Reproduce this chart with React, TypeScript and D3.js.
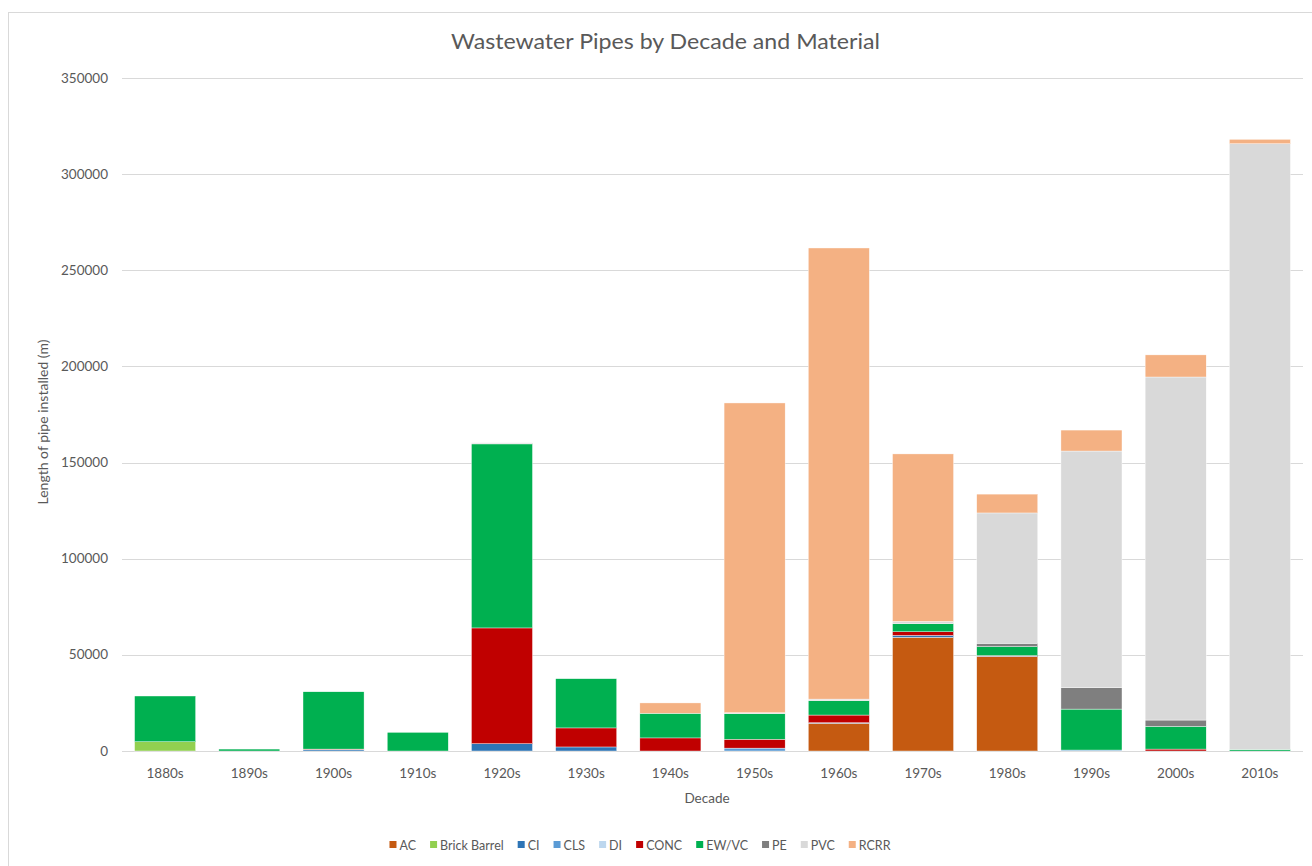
import { useEffect, useRef } from "react";
import * as d3 from "d3";

const DECADES = ["1880s", "1890s", "1900s", "1910s", "1920s", "1930s", "1940s", "1950s", "1960s", "1970s", "1980s", "1990s", "2000s", "2010s"];

const AC = [0, 0, 0, 0, 0, 0, 0, 0, 14400, 59100, 49000, 0, 0, 0];
const BRICK_BARREL = [4800, 0, 0, 0, 0, 0, 0, 0, 0, 0, 0, 0, 0, 0];
const CI = [0, 0, 600, 0, 3800, 2100, 0, 0, 300, 1000, 300, 0, 0, 0];
const CLS = [0, 0, 0, 0, 0, 0, 0, 1500, 0, 0, 0, 500, 0, 0];
const DI = [0, 0, 0, 0, 0, 0, 0, 0, 0, 0, 0, 0, 0, 0];
const CONC = [0, 0, 400, 0, 60200, 9900, 6800, 4600, 4000, 1900, 300, 0, 1000, 0];
const EW_VC = [23800, 1000, 29800, 9700, 95700, 25600, 12800, 13300, 7500, 4200, 4700, 21300, 11800, 800];
const PE = [0, 0, 0, 0, 300, 0, 0, 0, 0, 0, 1700, 11100, 3300, 0];
const PVC = [0, 0, 0, 0, 300, 0, 0, 500, 800, 1200, 67800, 123100, 178400, 315000];
const RCRR = [0, 0, 0, 0, 0, 0, 5400, 161100, 234600, 87100, 9800, 10900, 11500, 2300];

const Y_TICKS = [0, 50000, 100000, 150000, 200000, 250000, 300000, 350000];

const SERIES = [
  { name: "AC", values: AC, color: "#C55A11" },
  { name: "Brick Barrel", values: BRICK_BARREL, color: "#92D050" },
  { name: "CI", values: CI, color: "#2E75B6" },
  { name: "CLS", values: CLS, color: "#5B9BD5" },
  { name: "DI", values: DI, color: "#BDD7EE" },
  { name: "CONC", values: CONC, color: "#C00000" },
  { name: "EW/VC", values: EW_VC, color: "#00B050" },
  { name: "PE", values: PE, color: "#7F7F7F" },
  { name: "PVC", values: PVC, color: "#D9D9D9" },
  { name: "RCRR", values: RCRR, color: "#F4B183" },
];

const FONT = "Lato, 'Open Sans', sans-serif";
const TEXT = "#595959";

export default function App() {
  const ref = useRef<SVGSVGElement | null>(null);

  useEffect(() => {
    if (!ref.current) return;
    const svg = d3.select(ref.current);
    svg.selectAll("*").remove();

    const height = 866;
    const plot = { left: 122, right: 1303, top: 78, bottom: height - 115 };

    // chart frame
    svg
      .append("rect")
      .attr("x", 8.5)
      .attr("y", 12.5)
      .attr("width", 1400)
      .attr("height", 1000)
      .attr("fill", "#fff")
      .attr("stroke", "#d9d9d9");

    const x = d3
      .scaleBand<string>()
      .domain(DECADES)
      .range([123, 1302])
      .paddingInner(0.275)
      .paddingOuter(0.1375);

    const y = d3
      .scaleLinear()
      .domain([0, 350000])
      .range([plot.bottom, plot.top]);

    // gridlines
    svg
      .append("g")
      .selectAll("line")
      .data(Y_TICKS)
      .enter()
      .append("line")
      .attr("x1", plot.left)
      .attr("x2", plot.right)
      .attr("y1", (d) => Math.round(y(d)) + 0.5)
      .attr("y2", (d) => Math.round(y(d)) + 0.5)
      .attr("stroke", "#d9d9d9")
      .attr("stroke-width", 1);

    svg
      .append("g")
      .selectAll("text")
      .data(Y_TICKS)
      .enter()
      .append("text")
      .text((d) => String(d))
      .attr("x", 108)
      .attr("y", (d) => y(d) + 4.5)
      .attr("text-anchor", "end")
      .attr("font-family", FONT)
      .attr("font-size", 13.5)
      .attr("fill", TEXT);

    const table = DECADES.map((decade, i) => {
      const row: Record<string, number | string> = { decade };
      SERIES.forEach((s) => (row[s.name] = s.values[i]));
      return row;
    });

    const stack = d3
      .stack<Record<string, number | string>>()
      .keys(SERIES.map((s) => s.name))
      .value((d, key) => d[key] as number);

    const layers = stack(table);

    svg
      .append("g")
      .selectAll("g")
      .data(layers)
      .enter()
      .append("g")
      .attr("fill", (_, i) => SERIES[i].color)
      .selectAll("rect")
      .data((d) => d.filter((p) => p[1] - p[0] > 0))
      .enter()
      .append("rect")
      .attr("x", (d) => x(d.data.decade as string) ?? 0)
      .attr("width", x.bandwidth())
      .attr("y", (d) => y(d[1]))
      .attr("height", (d) => y(d[0]) - y(d[1]))
      .attr("stroke", "#fff")
      .attr("stroke-width", 0.4);

    // x tick labels
    svg
      .append("g")
      .selectAll("text")
      .data(DECADES)
      .enter()
      .append("text")
      .text((d) => d)
      .attr("x", (d) => (x(d) ?? 0) + x.bandwidth() / 2)
      .attr("y", 778)
      .attr("text-anchor", "middle")
      .attr("font-family", FONT)
      .attr("font-size", 13.5)
      .attr("fill", TEXT);

    svg
      .append("text")
      .text("Decade")
      .attr("x", 707)
      .attr("y", 803)
      .attr("text-anchor", "middle")
      .attr("font-family", FONT)
      .attr("font-size", 13.5)
      .attr("fill", TEXT);

    svg
      .append("text")
      .text("Length of pipe installed (m)")
      .attr("transform", "translate(48,422) rotate(-90)")
      .attr("text-anchor", "middle")
      .attr("font-family", FONT)
      .attr("font-size", 14)
      .attr("fill", TEXT);

    svg
      .append("text")
      .text("Wastewater Pipes by Decade and Material")
      .attr("x", 451)
      .attr("y", 49)
      .attr("textLength", 429)
      .attr("lengthAdjust", "spacingAndGlyphs")
      .attr("font-family", FONT)
      .attr("font-size", 21)
      .attr("fill", TEXT);

    // legend
    const legend = svg.append("g");
    let cursor = 0;
    SERIES.forEach((s) => {
      const item = legend.append("g").attr("transform", `translate(${cursor},0)`);
      item.append("rect").attr("x", 0).attr("y", -4).attr("width", 7).attr("height", 7).attr("fill", s.color);
      const t = item
        .append("text")
        .text(s.name)
        .attr("x", 10)
        .attr("y", 4.5)
        .attr("font-family", FONT)
        .attr("font-size", 12.5)
        .attr("fill", TEXT);
      const w = (t.node() as SVGTextElement).getComputedTextLength();
      cursor += 10 + w + 14;
    });
    const total = cursor - 14;
    legend.attr("transform", `translate(${640 - total / 2},845)`);
  }, []);

  return (
    <svg
      ref={ref}
      width={1312}
      height={866}
      style={{ position: "absolute", left: 0, top: 0, background: "#fff" }}
    />
  );
}
